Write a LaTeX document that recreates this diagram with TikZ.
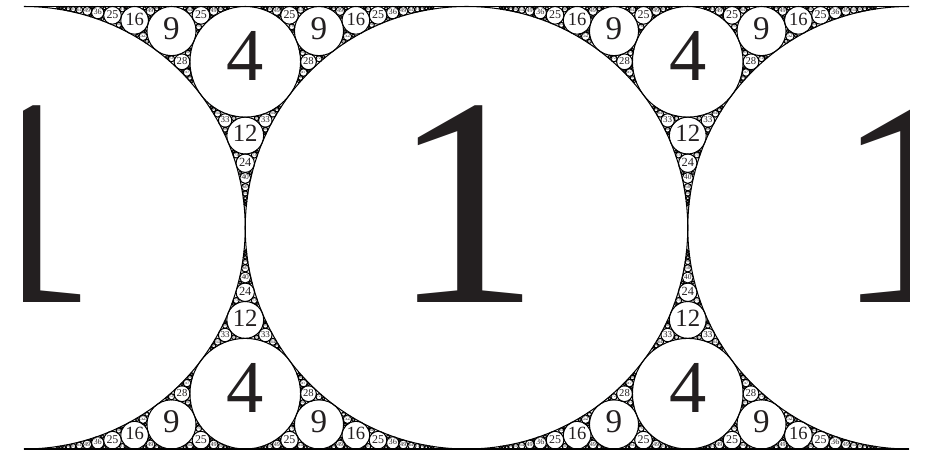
\documentclass[tikz,border=0pt]{standalone}
\usepackage{fontspec}
\setmainfont{Liberation Serif}
\definecolor{ink}{RGB}{35,31,32}
% circles are stored as {k}{k*x}{k*y}, all integers
\newcommand{\kmax}{180}
\newcommand{\circK}[3]{#1}
\newcommand{\circA}[3]{#2}
\newcommand{\circB}[3]{#3}
\newcommand{\drawcirc}[3]{%
  \draw[circ] ({#2/#1},{#3/#1}) circle ({1/#1});
  \node[lbl,scale={11.5/#1}] at ({#2/#1},{(#3-0.34)/#1}) {#1};}
\newcommand{\gasket}[4]{%
  \begingroup
  \edef\nk{\the\numexpr 2*(\circK#1+\circK#2+\circK#3)-\circK#4\relax}%
  \ifnum\nk>\kmax\relax\else
    \edef\na{\the\numexpr 2*(\circA#1+\circA#2+\circA#3)-\circA#4\relax}%
    \edef\nb{\the\numexpr 2*(\circB#1+\circB#2+\circB#3)-\circB#4\relax}%
    \drawcirc{\nk}{\na}{\nb}%
    \edef\next{%
      \noexpand\gasket{#1}{#2}{{\nk}{\na}{\nb}}{#3}%
      \noexpand\gasket{#1}{#3}{{\nk}{\na}{\nb}}{#2}%
      \noexpand\gasket{#2}{#3}{{\nk}{\na}{\nb}}{#1}}%
    \next
  \fi
  \endgroup}

\begin{document}
\begin{tikzpicture}[scale=3,
  circ/.style={draw=black,line width=0.4pt},
  lbl/.style={text=ink,anchor=base,inner sep=0pt,font=\fontsize{10}{10}\selectfont}
]
\useasboundingbox (-0.1084,-1.0163) rectangle (4.0858,1.0294);
\begin{scope}
\clip (0,-1.05) rectangle (4,1.05);
% the three big circles
\drawcirc{1}{0}{0}
\drawcirc{1}{2}{0}
\drawcirc{1}{4}{0}
% fill the four gaps against the lines
\gasket{{1}{0}{0}}{{1}{2}{0}}{{0}{0}{1}}{{0}{0}{-1}}
\gasket{{1}{0}{0}}{{1}{2}{0}}{{0}{0}{-1}}{{0}{0}{1}}
\gasket{{1}{2}{0}}{{1}{4}{0}}{{0}{0}{1}}{{0}{0}{-1}}
\gasket{{1}{2}{0}}{{1}{4}{0}}{{0}{0}{-1}}{{0}{0}{1}}
\end{scope}
\draw[circ] (0,1) -- (4,1);
\draw[circ] (0,-1) -- (4,-1);
\end{tikzpicture}
\end{document}
